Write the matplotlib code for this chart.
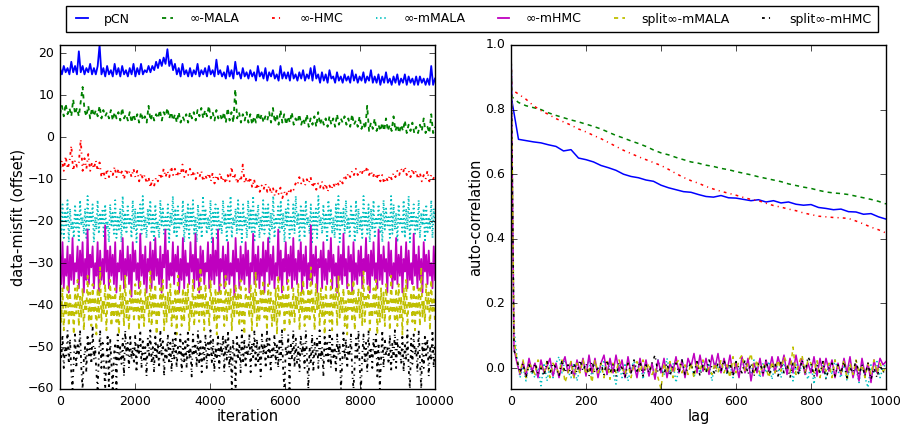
import numpy as np
import matplotlib
matplotlib.use('Agg')
import matplotlib.pyplot as plt

plt.style.use('classic')

labels = ['pCN', '∞-MALA', '∞-HMC', '∞-mMALA', '∞-mHMC', 'split∞-mMALA', 'split∞-mHMC']
colors = ['b', 'g', 'r', 'c', 'm', 'y', 'k']
# solid, dashed, dash-dot, dotted, solid, dashed, dash-dot (short dashes as in the figure)
styles = ['-', (0, (3, 3)), (0, (2, 3, 0.8, 3)), (0, (1, 2)), '-', (0, (3, 3)), (0, (2, 3, 0.8, 3))]

# ---- left panel: data-misfit traces (with offsets) ----
pcn = [16.5, 15, 17, 15.5, 16.5, 15, 18, 15.5, 17, 15,
       20.5, 15.5, 17, 15, 16.5, 15.5, 17.5, 15, 16.5, 15,
       17, 22, 15, 16.5, 14.5, 17, 15, 16, 14.5, 17.5,
       15, 16.5, 14.5, 17, 15, 16, 14.5, 16.5, 15, 17.5,
       14.5, 16.5, 15, 17.5, 15, 16, 15.5, 17, 15.5, 17,
       16, 18, 16.5, 18.5, 17, 19, 17.5, 21, 17, 18.5,
       16, 17.5, 15, 16.5, 14.5, 17.5, 15, 16, 14.5, 16.5,
       14.5, 16, 15, 17.5, 14.5, 16, 15, 16.5, 14.5, 17,
       15, 16, 14.5, 18.5, 15, 16, 14.5, 15.5, 14, 17,
       14.5, 16, 14, 18, 15, 15.5, 14, 16.5, 14.5, 15.5,
       14, 16, 14.5, 15.5, 13.5, 17, 14.5, 15.5, 14, 16.5,
       13.5, 15.5, 14.5, 16, 14, 15, 13.5, 17, 14, 15.5,
       14, 15.5, 13.5, 16.5, 14, 15, 13.5, 15.5, 14, 16,
       13.5, 15, 14, 16.5, 13.5, 17, 14, 15, 13, 15.5,
       13.5, 15, 13, 16, 14, 14.5, 13, 15.5, 13.5, 14.5,
       13, 15, 13.5, 14.5, 13, 16, 13.5, 15, 13, 14.5,
       13.5, 15.5, 13, 14.5, 13.5, 16, 13, 14.5, 13, 15,
       12.5, 14.5, 13, 15.5, 13, 14, 12.5, 14.5, 13, 15,
       12.5, 14, 13, 15, 12.5, 14.5, 13, 14, 12.5, 14.5,
       12.5, 14.5, 13, 14, 12.5, 14, 12.5, 17, 12.5, 14]

mala = [5.5, 7.5, 5, 8, 5.5, 7, 5, 9, 5.5, 7,
        5, 8.5, 12, 6.5, 5, 7.5, 4.5, 7, 5, 6.5,
        5, 7.5, 4.5, 6.5, 5, 6, 4.5, 6.5, 4, 6,
        4.5, 6, 4, 7, 4.5, 5.5, 4, 6, 3.5, 5.5,
        4, 5.5, 3.5, 6, 4, 5, 3.5, 7.5, 4, 5.5,
        4, 5.5, 4.5, 6.5, 4, 6, 5, 7, 4.5, 6,
        4, 5.5, 3.5, 6, 3.5, 5, 4, 5.5, 3.5, 6,
        4.5, 6, 4, 6.5, 5, 7, 4.5, 6.5, 5, 7.5,
        4.5, 6, 4, 6.5, 4.5, 5.5, 4, 6, 3.5, 7,
        4, 6, 3.5, 11.5, 4.5, 6, 3.5, 5.5, 4, 6,
        3.5, 5.5, 3, 5, 3.5, 6, 4, 5.5, 3.5, 5,
        4, 6, 3.5, 7, 3.5, 5.5, 3, 6.5, 3.5, 5.5,
        3, 5, 3.5, 6, 3, 4.5, 3.5, 5.5, 3, 4.5,
        3, 5.5, 2.5, 4.5, 3, 5, 2.5, 6, 3, 4.5,
        3, 4.5, 2.5, 5, 3, 4.5, 2.5, 5.5, 3, 4.5,
        3.5, 5, 3, 4.5, 2.5, 5.5, 3, 4, 2.5, 5,
        2, 3.5, 2, 7.5, 1.5, 3.5, 2, 4.5, 1.5, 3,
        1.5, 3.5, 1.5, 4.5, 1.5, 3, 1.5, 5, 1.5, 3,
        1, 3, 1.5, 4, 1, 3, 1.5, 3.5, 1, 2.5,
        1, 3, 1.5, 4.5, 1, 2.5, 1, 5.5, 1, 2.5]

hmc = [-7.5, -5.5, -8, -4.5, -7.5, -6, -2, -8, -5.5, -7,
       -6, -0.5, -8, -5, -7.5, -4, -8, -6, -7.5, -5.5,
       -8, -6, -9.5, -8, -10, -7.5, -9.5, -8, -9, -7,
       -9.5, -7.5, -9, -8, -10, -7.5, -9, -8, -9.5, -7.5,
       -9.5, -8, -10.5, -8.5, -10, -9, -11, -9.5, -12, -10,
       -11.5, -9.5, -10.5, -8.5, -10, -7.5, -9.5, -8, -9.5, -7,
       -9, -7.5, -9.5, -8, -9, -6.5, -9.5, -8, -9, -7.5,
       -9.5, -8, -10, -8.5, -9.5, -8, -10.5, -9, -10, -8.5,
       -10.5, -8.5, -11, -9, -10, -8.5, -10.5, -9.5, -11, -9,
       -10.5, -7, -10, -9, -11, -9.5, -10.5, -6.5, -11, -9.5,
       -11, -9.5, -12, -10, -12.5, -11, -13, -11.5, -12.5, -11,
       -13, -11.5, -13.5, -12, -14, -12.5, -13.5, -12, -14.5, -13,
       -14, -12.5, -13.5, -12, -12.5, -11, -11.5, -9.5, -11, -10,
       -11.5, -10, -11, -9.5, -12, -10.5, -12.5, -11, -12, -10.5,
       -12.5, -11, -13, -11.5, -12.5, -11, -12, -10.5, -11.5, -10,
       -11, -9, -10, -8.5, -9.5, -8, -9, -7.5, -9, -8,
       -9, -7.5, -8.5, -7, -9, -8, -9.5, -8.5, -10, -8.5,
       -10.5, -9, -11, -9.5, -10.5, -9, -10, -8.5, -9.5, -8,
       -9, -7.5, -8.5, -7, -9, -8, -9.5, -7.5, -9, -8,
       -10, -8.5, -10.5, -9, -10, -8, -10.5, -9, -10, -9]

mmala = [-19, -23, -16, -24, -18, -21, -15, -25, -17, -22, -20, -24, -16, -22, -18,
         -25, -15, -21, -19, -23, -17, -24, -14, -22, -18, -20, -16, -25, -19, -22,
         -15, -23, -18, -21, -17, -24, -16, -22, -20, -25, -16, -21, -18, -23, -15,
         -24, -19, -22, -17, -25, -14, -22, -18, -23, -16, -21, -19, -24, -15, -22,
         -17, -25, -18, -21, -16, -23, -14, -22, -19, -24, -17, -21, -15, -23, -18,
         -25, -16, -22, -20, -24, -15, -21, -17, -23, -19, -22, -16, -25, -18, -21,
         -14, -23, -17, -24, -16, -22, -19, -21, -15, -25, -18, -22, -16, -24, -17,
         -21, -15, -23, -19, -25, -16, -22, -18, -24, -14, -21, -17, -23, -19, -22,
         -15, -25, -18, -21, -16, -24, -17, -22, -20, -23, -15, -21, -18, -25, -16,
         -22, -14, -24, -19, -21, -17, -23, -15, -22, -18, -25, -16, -21, -19, -24,
         -15, -22, -17, -23, -14, -25, -18, -21, -16, -24, -19, -22, -15, -23, -17,
         -21, -16, -25, -18, -22, -14, -24, -19, -21, -16, -23, -15, -22, -18, -25,
         -17, -21, -15, -24, -19, -22, -16, -23, -14, -21, -18, -25, -16, -22, -17,
         -24, -15, -21, -19, -23, -16, -25, -18, -22, -17, -24, -14, -21, -19, -23,
         -16, -22, -18, -25, -15, -21, -17, -23, -19, -24, -16, -22, -14, -25, -18,
         -21, -17, -23, -15, -22, -19, -24, -16, -21, -18, -25, -15, -23, -17, -22,
         -19, -24, -14, -21, -18, -23, -16, -25, -17, -22, -15, -24, -19, -21, -16,
         -23, -18, -25, -15, -22, -17, -21, -19, -24, -14, -23, -16, -22, -18, -25,
         -16, -21, -19, -23, -15, -24, -17, -22, -14, -25, -18, -21, -16, -23, -19,
         -22, -15, -24, -18, -21, -17, -25, -16, -23, -19, -22, -15, -24, -17, -21]

mhmc = [-27, -35, -25, -36, -29, -33, -26, -37, -28, -34, -24, -35, -30, -32, -26,
        -36, -27, -33, -25, -37, -29, -34, -22, -35, -28, -31, -26, -36, -30, -33,
        -25, -37, -27, -34, -29, -35, -21, -32, -27, -36, -26, -33, -28, -35, -25,
        -37, -30, -32, -27, -34, -24, -36, -29, -33, -26, -35, -28, -38, -25, -32,
        -27, -34, -30, -36, -23, -33, -28, -35, -26, -37, -29, -32, -25, -36, -27,
        -34, -24, -33, -29, -35, -26, -37, -28, -31, -22, -36, -27, -34, -30, -33,
        -25, -35, -28, -32, -26, -37, -29, -34, -24, -36, -27, -33, -30, -35, -25,
        -32, -28, -36, -23, -34, -29, -37, -26, -33, -27, -35, -30, -32, -25, -36,
        -28, -34, -24, -35, -27, -33, -22, -37, -29, -32, -26, -36, -28, -34, -25,
        -35, -30, -33, -27, -38, -24, -32, -29, -36, -26, -34, -28, -35, -25, -33,
        -27, -37, -30, -32, -23, -35, -28, -34, -26, -36, -29, -33, -25, -37, -27,
        -32, -24, -35, -28, -34, -26, -36, -30, -33, -22, -34, -27, -37, -29, -32,
        -25, -35, -28, -33, -26, -36, -24, -34, -29, -35, -27, -32, -25, -37, -28,
        -33, -26, -36, -30, -34, -21, -35, -28, -33, -26, -37, -29, -31, -27, -36,
        -25, -34, -29, -35, -27, -32, -24, -36, -28, -33, -30, -37, -26, -34, -28,
        -35, -23, -33, -29, -36, -26, -32, -28, -37, -25, -34, -30, -35, -27, -33,
        -26, -36, -29, -32, -24, -35, -28, -37, -27, -33, -25, -34, -30, -36, -22,
        -34, -28, -35, -26, -32, -29, -37, -25, -33, -27, -36, -30, -34, -24, -35,
        -28, -33, -26, -37, -29, -32, -25, -36, -27, -34, -30, -35, -23, -33, -28,
        -36, -26, -34, -29, -37, -25, -32, -28, -35, -27, -33, -30, -36, -26, -34]

split_mmala = [-38, -44, -36, -46, -39, -42, -35, -45, -37, -43, -40, -47, -36, -42, -34,
               -45, -38, -43, -36, -46, -39, -41, -33, -44, -37, -45, -35, -42, -38, -47,
               -36, -43, -31, -44, -39, -42, -35, -46, -37, -41, -34, -45, -38, -43, -36,
               -44, -40, -47, -35, -42, -37, -45, -33, -43, -39, -46, -36, -41, -38, -44,
               -35, -42, -37, -46, -34, -43, -39, -45, -36, -41, -38, -44, -32, -45, -37,
               -42, -35, -47, -39, -43, -36, -41, -34, -46, -38, -44, -37, -42, -35, -45,
               -39, -43, -36, -47, -33, -42, -38, -45, -36, -44, -37, -41, -35, -46, -39,
               -43, -34, -45, -38, -42, -36, -44, -31, -43, -37, -46, -35, -42, -39, -45,
               -34, -41, -38, -44, -36, -47, -37, -43, -35, -42, -39, -45, -33, -44, -37,
               -41, -36, -46, -38, -43, -35, -42, -37, -45, -34, -44, -39, -47, -36, -41,
               -38, -43, -35, -46, -37, -42, -32, -45, -39, -44, -36, -41, -34, -43, -38,
               -46, -35, -42, -37, -45, -39, -44, -36, -47, -33, -43, -38, -41, -35, -46,
               -37, -42, -34, -45, -39, -43, -36, -44, -38, -41, -35, -46, -37, -42, -34,
               -45, -39, -43, -36, -44, -31, -42, -38, -46, -35, -41, -37, -45, -36, -43,
               -38, -47, -35, -42, -39, -44, -34, -46, -37, -41, -36, -45, -33, -43, -38,
               -42, -36, -45, -39, -47, -35, -41, -37, -44, -34, -46, -38, -42, -36, -43,
               -37, -45, -32, -44, -38, -41, -35, -46, -39, -43, -36, -42, -34, -47, -38,
               -44, -36, -43, -37, -45, -35, -41, -39, -46, -33, -42, -38, -44, -36, -45,
               -35, -43, -38, -47, -36, -42, -34, -45, -39, -41, -37, -44, -35, -46, -38,
               -42, -36, -45, -31, -43, -39, -44, -35, -41, -37, -46, -34, -42, -38, -44]

split_mhmc = [-49, -53, -47, -55, -50, -52, -46, -54, -48, -56, -60, -53, -47, -55, -49,
              -52, -46, -55, -60, -53, -50, -56, -47, -52, -49, -54, -45, -53, -50, -56,
              -60, -52, -46, -55, -49, -54, -60, -53, -47, -60, -48, -54, -60, -52, -49,
              -60, -47, -53, -50, -54, -48, -57, -46, -52, -49, -55, -47, -53, -50, -54,
              -47, -56, -49, -52, -46, -55, -48, -53, -50, -57, -48, -52, -46, -54, -50,
              -56, -47, -53, -49, -55, -46, -52, -48, -57, -50, -53, -47, -54, -49, -56,
              -48, -53, -46, -55, -50, -52, -47, -56, -49, -54, -48, -55, -46, -53, -50,
              -57, -47, -52, -49, -55, -46, -54, -48, -56, -50, -53, -47, -55, -49, -52,
              -46, -54, -48, -56, -50, -53, -47, -55, -49, -52, -47, -56, -48, -53, -46,
              -55, -50, -60, -48, -52, -60, -47, -53, -49, -56, -46, -54, -48, -55, -50,
              -52, -47, -56, -49, -53, -46, -55, -48, -54, -50, -57, -47, -52, -49, -55,
              -46, -53, -48, -56, -50, -52, -47, -54, -49, -55, -48, -53, -46, -56, -60,
              -50, -52, -47, -60, -49, -53, -46, -55, -48, -54, -50, -56, -47, -52, -49,
              -55, -46, -53, -60, -50, -54, -47, -56, -49, -52, -48, -55, -46, -53, -50,
              -57, -47, -52, -49, -54, -46, -55, -48, -53, -50, -56, -47, -52, -49, -60,
              -54, -46, -53, -48, -55, -50, -52, -47, -56, -60, -54, -48, -53, -46, -55,
              -60, -52, -47, -54, -49, -56, -46, -53, -50, -55, -48, -52, -47, -57, -49,
              -60, -53, -46, -55, -48, -52, -50, -54, -47, -56, -49, -53, -46, -55, -48,
              -52, -50, -54, -47, -56, -49, -53, -46, -55, -60, -48, -54, -47, -52, -50,
              -56, -46, -53, -60, -49, -55, -47, -52, -48, -57, -50, -53, -46, -55, -49]

traces = [pcn, mala, hmc, mmala, mhmc, split_mmala, split_mhmc]

# ---- right panel: autocorrelation ----
lag_slow = [0, 2] + list(range(20, 1001, 20))
acf_pcn = [1.0, 0.83, 0.708, 0.704, 0.700, 0.697, 0.691, 0.686, 0.672, 0.676, 0.650, 0.645,
           0.638, 0.627, 0.620, 0.612, 0.600, 0.593, 0.589, 0.582, 0.578, 0.566,
           0.558, 0.552, 0.546, 0.544, 0.537, 0.531, 0.529, 0.534, 0.527, 0.526,
           0.522, 0.518, 0.521, 0.514, 0.518, 0.511, 0.514, 0.507, 0.504, 0.506,
           0.497, 0.494, 0.490, 0.492, 0.484, 0.483, 0.476, 0.478, 0.468, 0.461]
acf_mala = [1.0, 0.84, 0.822, 0.812, 0.806, 0.800, 0.790, 0.782, 0.775, 0.768, 0.762, 0.755,
            0.748, 0.740, 0.730, 0.720, 0.712, 0.703, 0.695, 0.686, 0.675, 0.666,
            0.660, 0.652, 0.645, 0.638, 0.634, 0.628, 0.624, 0.618, 0.614, 0.608,
            0.603, 0.598, 0.592, 0.587, 0.582, 0.577, 0.570, 0.565, 0.560, 0.556,
            0.550, 0.545, 0.542, 0.540, 0.537, 0.532, 0.527, 0.522, 0.516, 0.508]
acf_hmc = [1.0, 0.862, 0.848, 0.832, 0.812, 0.797, 0.785, 0.772, 0.762, 0.752, 0.740, 0.731,
           0.720, 0.710, 0.698, 0.686, 0.674, 0.664, 0.654, 0.645, 0.636, 0.627,
           0.615, 0.602, 0.590, 0.580, 0.572, 0.562, 0.554, 0.547, 0.541, 0.535,
           0.528, 0.522, 0.518, 0.510, 0.503, 0.498, 0.492, 0.487, 0.480, 0.475,
           0.470, 0.468, 0.466, 0.465, 0.463, 0.455, 0.446, 0.436, 0.428, 0.418]

lag_fast = list(range(0, 1001, 8))
acf_mmala = [1.0, 0.12, 0.035, -0.03, 0.005, -0.04, 0.015, -0.015, -0.03, 0.0,
             -0.055, 0.015, -0.04, 0.01, -0.03, 0.015, 0.035, -0.015, 0.025, -0.01,
             -0.03, 0.015, -0.04, 0.0, 0.02, -0.015, 0.025, -0.03, 0.015, 0.0,
             -0.015, 0.025, -0.02, 0.015, -0.015, -0.05, 0.01, -0.03, 0.015, -0.04,
             0.0, 0.02, -0.015, 0.025, -0.035, 0.01, -0.02, 0.015, -0.03, 0.025,
             0.0, -0.02, 0.03, -0.015, 0.015, -0.045, 0.0, 0.025, -0.015, 0.01,
             0.02, -0.03, 0.015, -0.015, 0.025, -0.01, 0.015, -0.04, 0.02, 0.0,
             -0.015, 0.025, -0.02, 0.01, -0.03, 0.015, -0.015, 0.03, -0.01, 0.015,
             -0.02, 0.025, 0.0, -0.03, 0.015, -0.015, 0.02, -0.035, 0.01, 0.0,
             -0.03, 0.015, -0.015, 0.025, -0.04, 0.01, -0.02, 0.015, -0.01, -0.035,
             0.015, -0.05, 0.02, -0.015, 0.01, -0.03, 0.015, -0.02, 0.025, -0.01,
             -0.03, 0.015, -0.04, 0.01, -0.02, 0.0, -0.045, 0.015, -0.03, -0.06,
             0.01, -0.015, 0.02, -0.03, 0.0, 0.015]
acf_mhmc = [1.0, 0.06, 0.015, -0.02, 0.02, -0.025, 0.03, -0.01, 0.015, -0.03,
            0.025, -0.015, 0.005, 0.03, -0.025, 0.015, -0.03, 0.01, 0.035, -0.015,
            0.02, -0.03, 0.025, -0.01, 0.03, -0.025, 0.04, -0.015, 0.03, -0.03,
            0.015, 0.04, -0.02, 0.03, -0.015, 0.04, -0.01, 0.025, -0.03, 0.035,
            -0.015, 0.01, -0.03, 0.03, -0.015, 0.025, -0.025, 0.015, -0.035, 0.025,
            -0.015, 0.03, -0.03, 0.015, -0.01, 0.035, -0.015, 0.025, -0.03, 0.03,
            0.005, 0.045, -0.015, 0.04, -0.01, 0.03, -0.02, 0.04, 0.0, 0.045,
            -0.015, 0.03, -0.01, 0.04, -0.02, 0.015, -0.03, 0.035, -0.015, 0.03,
            -0.04, 0.015, -0.015, 0.03, -0.025, 0.025, -0.01, 0.035, -0.015, 0.035,
            0.0, 0.04, -0.02, 0.03, -0.015, 0.04, -0.01, 0.03, -0.02, 0.015,
            -0.015, 0.035, -0.025, 0.03, -0.015, 0.03, -0.01, 0.025, -0.03, 0.015,
            -0.02, 0.03, -0.015, 0.035, -0.03, 0.01, -0.04, 0.03, -0.02, 0.015,
            -0.045, 0.025, -0.015, 0.03, 0.01, 0.02]
acf_split_mmala = [1.0, 0.09, 0.025, -0.015, 0.025, -0.03, 0.015, 0.0, -0.02, 0.025,
                   0.005, -0.015, 0.02, -0.03, 0.015, 0.0, -0.015, 0.025, -0.045, -0.015,
                   0.02, -0.03, 0.015, -0.015, 0.025, -0.02, 0.005, -0.045, 0.025, -0.015,
                   0.015, -0.03, 0.02, -0.035, 0.015, -0.015, 0.025, 0.0, -0.02, 0.015,
                   -0.03, 0.01, 0.02, -0.015, 0.025, -0.01, 0.015, -0.02, 0.0, -0.03,
                   -0.065, 0.015, -0.015, 0.02, -0.03, 0.015, 0.025, -0.015, 0.01, -0.02,
                   0.015, -0.03, 0.02, -0.01, 0.025, -0.015, 0.0, -0.02, 0.015, -0.015,
                   0.025, -0.015, 0.01, -0.03, 0.035, -0.015, 0.025, 0.04, -0.01, 0.015,
                   0.045, -0.015, 0.025, -0.02, 0.015, 0.0, -0.03, 0.02, -0.015, 0.025,
                   -0.01, 0.035, 0.015, -0.015, 0.065, -0.02, 0.015, 0.04, -0.015, 0.025,
                   0.015, -0.015, 0.025, -0.03, 0.02, -0.01, 0.015, -0.03, 0.025, 0.0,
                   -0.015, 0.025, -0.035, 0.015, -0.02, 0.025, -0.015, 0.01, -0.03, 0.015,
                   -0.02, 0.025, -0.015, 0.015, -0.01, 0.0]
acf_split_mhmc = [1.0, 0.055, 0.025, -0.015, 0.015, -0.03, 0.01, -0.02, 0.015, -0.015,
                  0.0, -0.025, 0.02, -0.015, 0.015, 0.0, -0.025, 0.025, -0.015, 0.01,
                  -0.02, 0.015, -0.015, 0.025, -0.01, 0.015, -0.025, 0.02, -0.015, 0.0,
                  0.015, -0.02, 0.025, -0.015, 0.01, -0.025, 0.015, 0.0, -0.03, 0.015,
                  -0.015, 0.025, -0.01, 0.02, -0.025, 0.01, -0.015, 0.015, 0.04, -0.015,
                  0.0, -0.02, 0.015, -0.025, 0.01, 0.015, -0.015, 0.025, -0.02, 0.0,
                  0.015, -0.015, 0.02, -0.025, 0.01, -0.015, 0.025, 0.0, -0.02, 0.015,
                  -0.01, 0.025, -0.015, 0.015, -0.025, 0.02, 0.0, -0.015, 0.025, -0.02,
                  0.015, -0.025, 0.01, 0.015, -0.015, 0.025, -0.02, 0.0, 0.015, -0.025,
                  0.02, -0.015, 0.01, -0.03, 0.015, 0.0, -0.02, 0.025, -0.015, 0.035,
                  0.015, -0.025, 0.01, -0.015, 0.02, -0.035, 0.0, 0.015, -0.025, 0.01,
                  -0.015, 0.02, -0.03, 0.0, -0.015, 0.025, -0.02, 0.01, -0.025, 0.015,
                  -0.035, 0.0, -0.03, 0.01, -0.015, 0.0]

acfs = [(lag_slow, acf_pcn), (lag_slow, acf_mala), (lag_slow, acf_hmc),
        (lag_fast, acf_mmala), (lag_fast, acf_mhmc),
        (lag_fast, acf_split_mmala), (lag_fast, acf_split_mhmc)]

fig = plt.figure(figsize=(9.03, 4.26), dpi=100, facecolor='white')
ax1 = fig.add_axes([60 / 903, 37 / 426, 375 / 903, 344 / 426])
ax2 = fig.add_axes([511 / 903, 37 / 426, 375 / 903, 344 / 426])

handles = []
for vals, c, ls, lab in zip(traces, colors, styles, labels):
    it = np.linspace(0, 10000, len(vals))
    h, = ax1.plot(it, vals, color=c, linestyle=ls, linewidth=1.3, label=lab)
    handles.append(h)
ax1.set_xlim(0, 10000)
ax1.set_ylim(-60, 22)
ax1.set_xticks(range(0, 10001, 2000))
ax1.set_yticks(range(-60, 21, 10))
ax1.set_xlabel('iteration', fontsize=10.5, labelpad=1)
ax1.set_ylabel('data-misfit (offset)', fontsize=10.5, labelpad=2)

for (lags, vals), c, ls in zip(acfs, colors, styles):
    ax2.plot(lags, vals, color=c, linestyle=ls, linewidth=1.1)
ax2.set_xlim(0, 1000)
ax2.set_ylim(-0.065, 1.0)
ax2.set_xticks(range(0, 1001, 200))
ax2.set_yticks([0.0, 0.2, 0.4, 0.6, 0.8, 1.0])
ax2.set_xlabel('lag', fontsize=10.5, labelpad=1)
ax2.set_ylabel('auto-correlation', fontsize=10.5, labelpad=2)

for ax in (ax1, ax2):
    ax.tick_params(labelsize=9)
    ax.set_facecolor('white')

fig.legend(handles, labels, loc='lower left', ncol=7, mode='expand',
           bbox_to_anchor=(60 / 903, 1 - 38 / 426, 824 / 903, 26 / 426),
           fontsize=9, handlelength=1.5, handletextpad=1.0,
           borderpad=0.5, frameon=True, fancybox=False)

fig.savefig('out.png', dpi=100, facecolor='white')
